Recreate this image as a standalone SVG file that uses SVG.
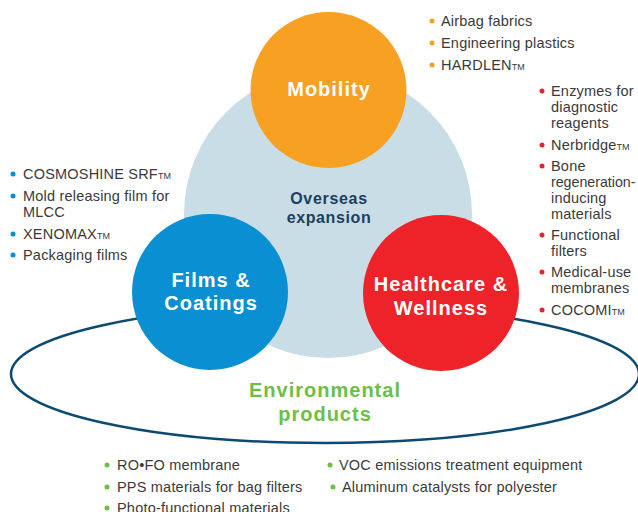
<svg xmlns="http://www.w3.org/2000/svg" width="638" height="512" viewBox="0 0 638 512">
<style>
.lbl{font-family:"Liberation Sans",Arial,sans-serif;font-weight:bold;text-anchor:middle}
.w{fill:#ffffff;font-size:20px;letter-spacing:1px}
.item{font-family:"Liberation Sans",Arial,sans-serif;font-size:14.5px;letter-spacing:0.2px;fill:#3a3a3a}
.tm{font-size:9px;letter-spacing:0}
.bo{fill:#f5a11f}.br{fill:#e8232a}.bb{fill:#0b8bd0}.bg{fill:#6cbf46}
</style>
<rect width="638" height="512" fill="#ffffff"/>
<g id="connectors">
<ellipse cx="325" cy="374" rx="314" ry="69" fill="none" stroke="#0d4a72" stroke-width="2.5"/>
</g>
<g id="overseas">
<circle cx="328" cy="214" r="144" fill="#c9dde7"/>
<text class="lbl" x="329" y="204" font-size="16" fill="#1b3f63" letter-spacing="0.7">Overseas</text>
<text class="lbl" x="329" y="223" font-size="16" fill="#1b3f63" letter-spacing="0.6">expansion</text>
</g>
<g id="mobility">
<circle cx="328.5" cy="90" r="78" fill="#f7a021"/>
<text class="lbl w" x="329" y="96">Mobility</text>
</g>
<g id="films">
<circle cx="210" cy="292" r="78" fill="#0a8fd3"/>
<text class="lbl w" x="211" y="287">Films &amp;</text>
<text class="lbl w" x="211" y="310">Coatings</text>
</g>
<g id="healthcare">
<circle cx="441" cy="293" r="78" fill="#ee2229"/>
<text class="lbl w" x="441" y="291">Healthcare &amp;</text>
<text class="lbl w" x="441" y="315">Wellness</text>
</g>
<g id="environmental">
<text class="lbl" x="325" y="397" font-size="20" fill="#6cbf46" letter-spacing="1">Environmental</text>
<text class="lbl" x="325" y="421" font-size="20" fill="#6cbf46" letter-spacing="1">products</text>
</g>
<g id="mobility-list">
<circle class="bo" cx="432" cy="21" r="2.5"/><text class="item" x="441" y="26">Airbag fabrics</text>
<circle class="bo" cx="432" cy="43" r="2.5"/><text class="item" x="441" y="48">Engineering plastics</text>
<circle class="bo" cx="432" cy="65" r="2.5"/><text class="item" x="441" y="70">HARDLEN<tspan class="tm">TM</tspan></text>
</g>
<g id="healthcare-list">
<circle class="br" cx="542" cy="91" r="2.5"/><text class="item" x="551" y="96">Enzymes for</text>
<text class="item" x="551" y="112">diagnostic</text>
<text class="item" x="551" y="128">reagents</text>
<circle class="br" cx="542" cy="145" r="2.5"/><text class="item" x="551" y="150">Nerbridge<tspan class="tm">TM</tspan></text>
<circle class="br" cx="542" cy="166" r="2.5"/><text class="item" x="551" y="171">Bone</text>
<text class="item" x="551" y="187" style="font-size:14.2px;letter-spacing:0">regeneration-</text>
<text class="item" x="551" y="203">inducing</text>
<text class="item" x="551" y="219">materials</text>
<circle class="br" cx="542" cy="235" r="2.5"/><text class="item" x="551" y="240">Functional</text>
<text class="item" x="551" y="256">filters</text>
<circle class="br" cx="542" cy="272" r="2.5"/><text class="item" x="551" y="277">Medical-use</text>
<text class="item" x="551" y="293">membranes</text>
<circle class="br" cx="542" cy="310" r="2.5"/><text class="item" x="551" y="315">COCOMI<tspan class="tm">TM</tspan></text>
</g>
<g id="films-list">
<circle class="bb" cx="13" cy="174" r="2.5"/><text class="item" x="23" y="179">COSMOSHINE SRF<tspan class="tm">TM</tspan></text>
<circle class="bb" cx="13" cy="196" r="2.5"/><text class="item" x="23" y="201">Mold releasing film for</text>
<text class="item" x="23" y="217">MLCC</text>
<circle class="bb" cx="13" cy="234" r="2.5"/><text class="item" x="23" y="239">XENOMAX<tspan class="tm">TM</tspan></text>
<circle class="bb" cx="13" cy="255" r="2.5"/><text class="item" x="23" y="260">Packaging films</text>
</g>
<g id="environmental-list">
<circle class="bg" cx="107" cy="465" r="2.5"/><text class="item" x="117" y="470">RO•FO membrane</text>
<circle class="bg" cx="107" cy="487" r="2.5"/><text class="item" x="117" y="492">PPS materials for bag filters</text>
<circle class="bg" cx="107" cy="508" r="2.5"/><text class="item" x="117" y="513">Photo-functional materials</text>
<circle class="bg" cx="330" cy="465" r="2.5"/><text class="item" x="339" y="470">VOC emissions treatment equipment</text>
<circle class="bg" cx="333" cy="487" r="2.5"/><text class="item" x="342" y="492">Aluminum catalysts for polyester</text>
</g>
</svg>
